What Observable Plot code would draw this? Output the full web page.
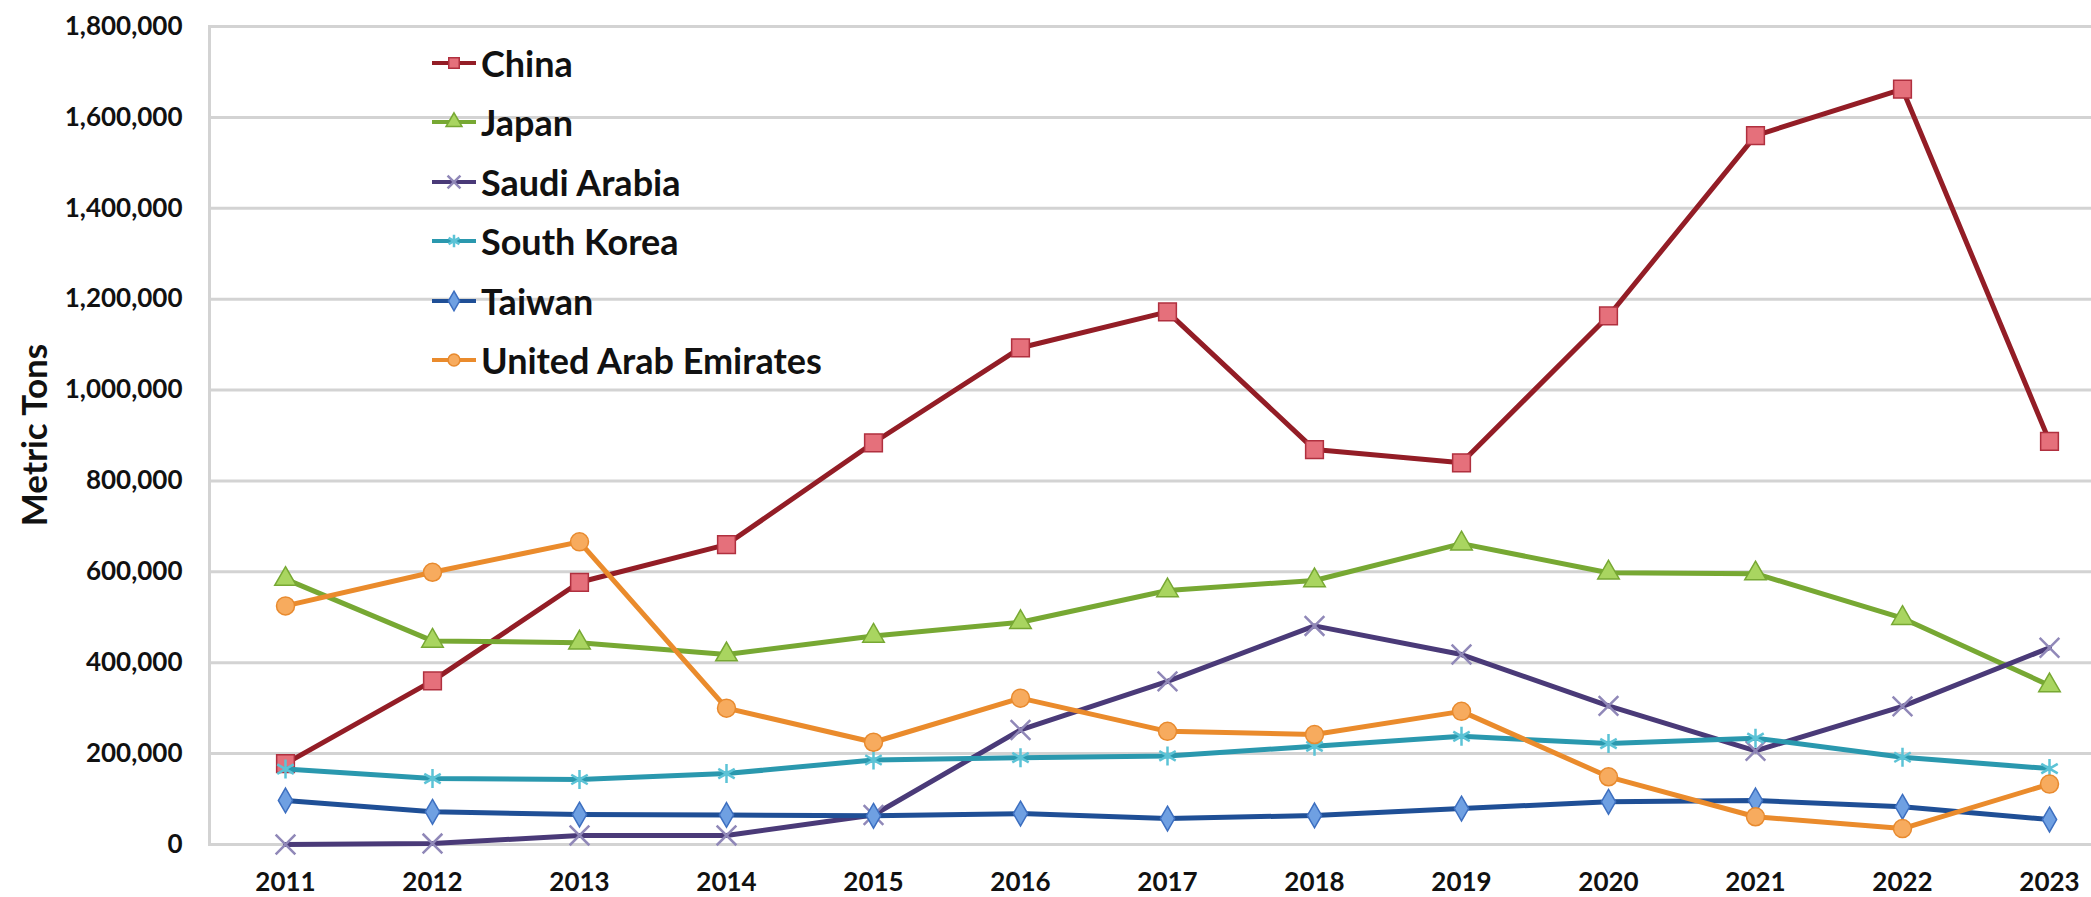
<!DOCTYPE html>
<html>
<head>
<meta charset="utf-8">
<script src="https://cdn.jsdelivr.net/npm/d3@7"></script>
<script src="https://cdn.jsdelivr.net/npm/@observablehq/plot@0.6"></script>
<style>
  html, body { margin: 0; padding: 0; background: #fff; overflow: hidden; }
  #wrap { position: relative; width: 2091px; height: 897px; }
  #legend { position: absolute; left: 430px; top: 33px; font-family: Lato, sans-serif; font-weight: 700; font-size: 36px; color: #111; }
  .lrow { display: flex; align-items: center; height: 59.5px; }
  .lrow svg { display: block; margin-right: 3px; }
  #ytitle { position: absolute; left: 33px; top: 435px; transform: translate(-50%, -50%) rotate(-90deg); white-space: nowrap;
            font-family: Lato, sans-serif; font-weight: 700; font-size: 35px; color: #111; }
</style>
</head>
<body>
<div id="wrap"></div>
<script>
// ---- data ----
const years = [2011, 2012, 2013, 2014, 2015, 2016, 2017, 2018, 2019, 2020, 2021, 2022, 2023];
const china = [178000, 360000, 577000, 660000, 884000, 1093000, 1172000, 869000, 840000, 1163000, 1560000, 1662000, 887000];
const japan = [584000, 448000, 444000, 418000, 459000, 489000, 559000, 581000, 662000, 598000, 596000, 498000, 350000];
const saudiArabia = [0, 2000, 20000, 20000, 65000, 252000, 359000, 481000, 418000, 305000, 206000, 304000, 433000];
const southKorea = [166000, 145000, 143000, 156000, 186000, 191000, 195000, 216000, 238000, 222000, 234000, 192000, 167000];
const taiwan = [97000, 72000, 66000, 65000, 63000, 68000, 57000, 64000, 79000, 94000, 97000, 83000, 55000];
const uae = [525000, 599000, 666000, 300000, 225000, 322000, 249000, 242000, 293000, 149000, 61000, 35000, 133000];
const seriesNames = ["China", "Japan", "Saudi Arabia", "South Korea", "Taiwan", "United Arab Emirates"];
const yTicks = [0, 200000, 400000, 600000, 800000, 1000000, 1200000, 1400000, 1600000, 1800000];
const yTitle = "Metric Tons";

// ---- styles ----
const styles = [
  {line: "#931d26", fill: "#e5707b", stroke: "#b0303f", symbol: "square", r: 10, sw: 1.5},
  {line: "#77a833", fill: "#a9d560", stroke: "#77a833", symbol: "triangle", r: 8, sw: 1.5},
  {line: "#4a3a78", fill: "none", stroke: "#9088b8", symbol: "times", r: 9, sw: 2.5},
  {line: "#2a98ae", fill: "none", stroke: "#5cc3d6", symbol: "asterisk", r: 9, sw: 2.5},
  {line: "#1f4f96", fill: "#6fa0e2", stroke: "#3d6fc0", symbol: "diamond", r: 7.5, sw: 1.5},
  {line: "#ea8b2c", fill: "#f7ab5e", stroke: "#e88a2e", symbol: "circle", r: 9, sw: 1.5}
];
const valuesList = [china, japan, saudiArabia, southKorea, taiwan, uae];

const series = seriesNames.map((name, k) => ({
  name, ...styles[k],
  rows: years.map((year, i) => ({year, value: valuesList[k][i], name}))
}));

const marks = [
  Plot.ruleY(yTicks, {stroke: "#d3d3d3", strokeWidth: 3}),
  Plot.frame({anchor: "left", stroke: "#d3d3d3", strokeWidth: 3})
];
for (const s of series) {
  marks.push(Plot.line(s.rows, {x: "year", y: "value", stroke: s.line, strokeWidth: 5, strokeLinejoin: "round"}));
  marks.push(Plot.dot(s.rows, {x: "year", y: "value", symbol: s.symbol, r: s.r, fill: s.fill, stroke: s.stroke, strokeWidth: s.sw}));
}

const chart = Plot.plot({
  width: 2091,
  height: 897,
  marginLeft: 209,
  marginRight: 0,
  marginTop: 26,
  marginBottom: 53,
  style: {fontFamily: "Lato, sans-serif", fontWeight: 700, fontSize: "26px", color: "#111", background: "#fff", overflow: "hidden"},
  x: {type: "point", domain: years, range: [283, 2050], padding: 0, tickSize: 0, tickPadding: 28, tickFormat: d => String(d), label: null},
  y: {domain: [0, 1800000], ticks: yTicks, tickFormat: d3.format(","), tickSize: 0, tickPadding: 27, label: null},
  marks
});
const wrap = document.getElementById("wrap");
wrap.appendChild(chart);

// ---- y title ----
const yt = document.createElement("div");
yt.id = "ytitle";
yt.textContent = yTitle;
wrap.appendChild(yt);

// ---- legend ----
const symMap = {square: d3.symbolSquare, triangle: d3.symbolTriangle, times: d3.symbolTimes, asterisk: d3.symbolAsterisk, diamond: d3.symbolDiamond, circle: d3.symbolCircle};
const legend = document.createElement("div");
legend.id = "legend";
for (const s of series) {
  const row = document.createElement("div");
  row.className = "lrow";
  const path = d3.symbol(symMap[s.symbol], 110)();
  row.innerHTML = `<svg width="48" height="24" viewBox="0 0 48 24"><line x1="2" x2="46" y1="12" y2="12" stroke="${s.line}" stroke-width="4"/><path transform="translate(24,12)" d="${path}" fill="${s.fill}" stroke="${s.stroke}" stroke-width="${s.sw}"/></svg><span>${s.name}</span>`;
  legend.appendChild(row);
}
wrap.appendChild(legend);
</script>
</body>
</html>
